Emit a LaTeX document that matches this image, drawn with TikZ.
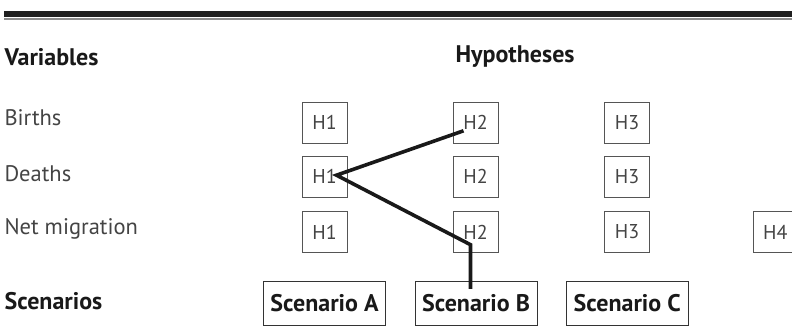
\documentclass[tikz,border=0pt]{standalone}
\usepackage{fontspec}
\setmainfont{PT Sans}
\definecolor{txtgrey}{HTML}{444444}
\definecolor{boxgrey}{HTML}{555555}
\definecolor{rulegrey}{HTML}{8C8C8C}
\tikzset{
	varlabel/.style={anchor=west, text=txtgrey, font=\fontsize{22.5}{26}\selectfont},
	headlabel/.style={anchor=west, text=black!90, font=\fontsize{24}{28}\selectfont\bfseries},
	hbox/.style={draw=boxgrey, thin, minimum width=45pt, minimum height=41pt, inner sep=0pt, text=txtgrey, font=\fontsize{20}{24}\selectfont},
	scenbox/.style={draw=black!80, thin, minimum width=122pt, minimum height=44pt, inner sep=0pt, text=black!90, font=\fontsize{24}{28}\selectfont\bfseries},
	scenpath/.style={line width=3.6pt, black!90, line join=miter}
}
\begin{document}
\begin{tikzpicture}[x=1pt, y=-1pt]
	\useasboundingbox (0,0) rectangle (792,326);
	% Linien oben
	\fill[black!88] (4,11.3) rectangle (792,16.7);
	\fill[rulegrey] (4,18) rectangle (792,19.8);
	% Ueberschriften
	\node[headlabel] (variables) at (1,57) {Variables};
	\node[headlabel] (hypotheses) at (452,57) {Hypotheses};
	% Variablen
	\node[varlabel] (births) at (1,118) {Births};
	\node[varlabel] (deaths) at (1,174) {Deaths};
	\node[varlabel] (netmig) at (1,229) {Net migration};
	\node[headlabel] (scenarios) at (1,301) {Scenarios};
	% Hypothesen
	\foreach \x/\xpos in {1/324.5, 2/475.5, 3/627}
	{
		\node[hbox] (b\x) at (\xpos, 122.8) {H\x};
		\node[hbox] (d\x) at (\xpos, 176.2) {H\x};
		\node[hbox] (n\x) at (\xpos, 232) {H\x};
	}
	\node[hbox] (n4) at (775.3, 232) {H4};
	% Szenarien
	\node[scenbox] (scenA) at (324.5, 303) {Scenario A};
	\node[scenbox] (scenB) at (476, 303) {Scenario B};
	\node[scenbox] (scenC) at (627.2, 303) {Scenario C};
	% Pfad Szenario B
	\draw[scenpath] ([xshift=-12pt, yshift=-8pt]b2.center)
		-- ([xshift=12pt, yshift=1pt]d1.center)
		-- ([xshift=-5pt, yshift=8pt]n2.south)
		-- ([xshift=-5.5pt, yshift=-8pt]scenB.north);
\end{tikzpicture}
\end{document}
